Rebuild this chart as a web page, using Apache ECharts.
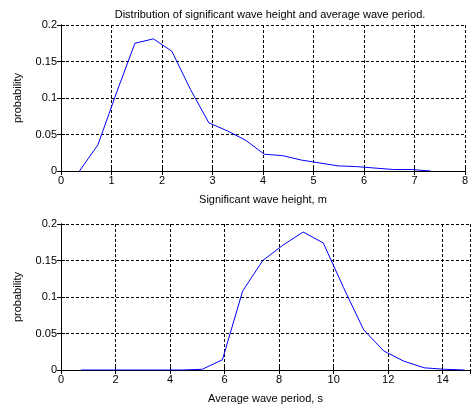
<!DOCTYPE html>
<html>
<head>
<meta charset="utf-8">
<script src="https://cdn.jsdelivr.net/npm/echarts@6/dist/echarts.min.js"></script>
<style>
  html, body { margin: 0; padding: 0; background: #fff; }
  #main { width: 471px; height: 410px; }
</style>
</head>
<body>
<div id="main"></div>
<script>
// wave height (m) and its probability
var heightX = [0.366, 0.732, 1.098, 1.464, 1.83, 2.196, 2.562, 2.928, 3.294, 3.66,
               4.026, 4.392, 4.758, 5.124, 5.49, 5.856, 6.222, 6.588, 6.954, 7.32];
var heightP = [0, 0.036, 0.107, 0.175, 0.181, 0.164, 0.112, 0.066, 0.055, 0.042,
               0.023, 0.021, 0.015, 0.011, 0.007, 0.006, 0.004, 0.002, 0.002, 0];
// wave period (s) and its probability
var periodX = [0.74, 1.48, 2.22, 2.96, 3.7, 4.44, 5.18, 5.92, 6.66, 7.4,
               8.14, 8.88, 9.62, 10.36, 11.1, 11.84, 12.58, 13.32, 14.06, 14.8];
var periodP = [0, 0, 0, 0, 0, 0, 0.001, 0.014, 0.108, 0.15,
               0.171, 0.189, 0.174, 0.113, 0.055, 0.026, 0.012, 0.003, 0.001, 0];
var probTicks = [0, 0.05, 0.1, 0.15, 0.2];

function pairs(xs, ys) {
    return xs.map(function (x, i) { return [x, ys[i]]; });
}

var font = 'Liberation Sans, Arial, sans-serif';
var dash = { color: '#000', type: [3, 2], width: 1 };

function xAxisOf(idx, max, interval, name, lastLabel) {
    return [{
        gridIndex: idx, type: 'value', min: 0, max: max, interval: interval,
        name: name, nameLocation: 'middle', nameGap: 23,
        nameTextStyle: { color: '#000', fontSize: 11, fontFamily: font },
        axisLine: { onZero: false, lineStyle: { color: '#000' } },
        axisTick: { inside: true, length: 4, lineStyle: { color: '#000' } },
        axisLabel: { color: '#000', fontSize: 11, fontFamily: font, margin: 4, showMaxLabel: lastLabel },
        splitLine: { show: true, lineStyle: dash }
    }, {
        // top edge of the box, ticks only
        gridIndex: idx, type: 'value', position: 'top', min: 0, max: max, interval: interval,
        axisLine: { lineStyle: { color: '#000' } },
        axisTick: { inside: true, length: 4, lineStyle: { color: '#000' } },
        axisLabel: { show: false }, splitLine: { show: false }
    }];
}

function yAxisOf(idx) {
    return [{
        gridIndex: idx, type: 'value', min: 0, max: probTicks[probTicks.length - 1], interval: 0.05,
        name: 'probability', nameLocation: 'middle', nameGap: 38, nameRotate: 90,
        nameTextStyle: { color: '#000', fontSize: 11, fontFamily: font },
        axisLine: { show: true, lineStyle: { color: '#000' } },
        axisTick: { show: true, inside: true, length: 4, lineStyle: { color: '#000' } },
        axisLabel: { color: '#000', fontSize: 11, fontFamily: font, margin: 4,
            formatter: function (v) { return String(+v.toFixed(2)); } },
        splitLine: { show: true, lineStyle: dash }
    }, {
        gridIndex: idx, type: 'value', position: 'right', min: 0, max: 0.2, interval: 0.05,
        axisLine: { show: true, lineStyle: { color: '#000' } },
        axisTick: { show: true, inside: true, length: 4, lineStyle: { color: '#000' } },
        axisLabel: { show: false }, splitLine: { show: false }
    }];
}

var myChart = echarts.init(document.getElementById('main'), null, { renderer: 'canvas' });
var option = {
    animation: false,
    backgroundColor: '#fff',
    title: {
        text: 'Distribution of significant wave height and average wave period.',
        left: 265, textAlign: 'center', top: 4,
        textStyle: { color: '#000', fontSize: 11, fontWeight: 'normal', fontFamily: font }
    },
    grid: [
        { left: 61, right: 1, top: 25, height: 146 },
        { left: 61, right: 1, top: 224, height: 146 }
    ],
    xAxis: xAxisOf(0, 8, 1, 'Significant wave height, m', true)
        .concat(xAxisOf(1, 15, 2, 'Average wave period, s', false)),
    yAxis: yAxisOf(0).concat(yAxisOf(1)),
    series: [{
        type: 'line', xAxisIndex: 0, yAxisIndex: 0,
        data: pairs(heightX, heightP),
        showSymbol: false, lineStyle: { color: '#0000ff', width: 1 }
    }, {
        type: 'line', xAxisIndex: 2, yAxisIndex: 2,
        data: pairs(periodX, periodP),
        showSymbol: false, lineStyle: { color: '#0000ff', width: 1 }
    }]
};
myChart.setOption(option);
</script>
</body>
</html>
